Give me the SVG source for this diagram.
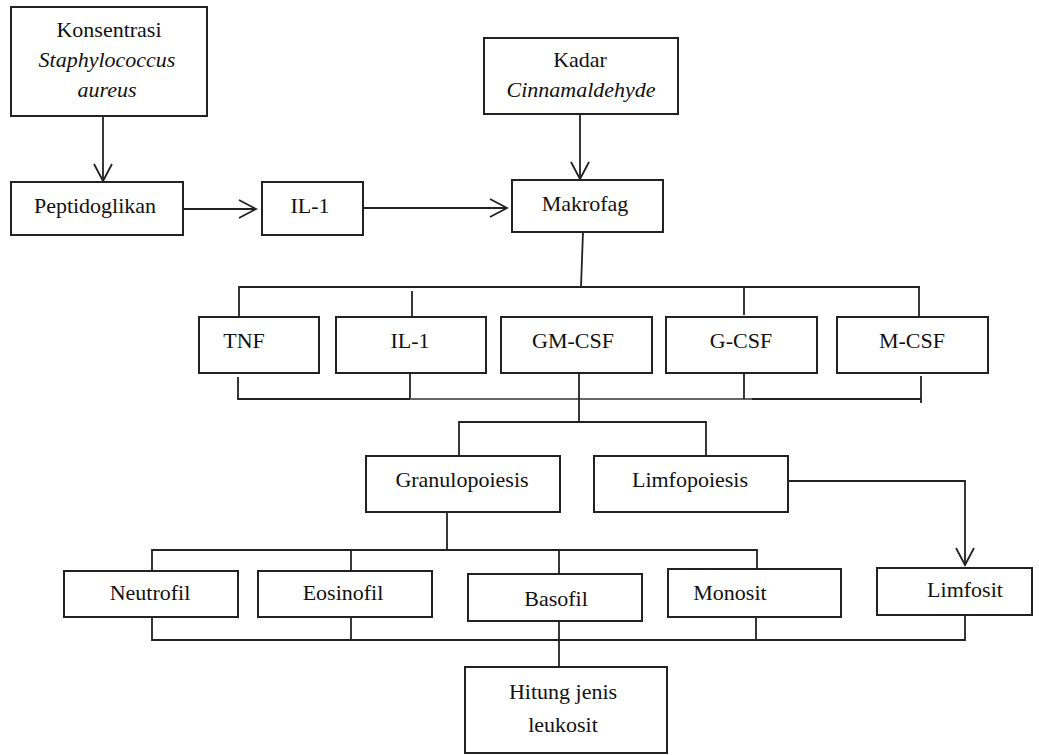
<svg xmlns="http://www.w3.org/2000/svg" width="1039" height="755" viewBox="0 0 1039 755">
<style>
.box{fill:#fff;stroke:#222;stroke-width:2}
.t{font-family:"Liberation Serif","Times New Roman",serif;font-size:22px;fill:#111;text-anchor:middle}
.i{font-style:italic}
.c{fill:none;stroke:#222;stroke-width:1.8}
.g{fill:none;stroke:#666;stroke-width:1.8}
</style>
<defs>
<marker id="arr" markerUnits="userSpaceOnUse" markerWidth="24" markerHeight="24" viewBox="-20 -12 24 24" refX="0" refY="0" orient="auto" overflow="visible">
<path d="M-17,-9 L0,0 L-17,9" fill="none" stroke="#222" stroke-width="1.8"/>
</marker>
</defs>
<rect width="1039" height="755" fill="#fff"/>
<g id="connectors">
<line class="c" x1="103" y1="116" x2="103" y2="181" marker-end="url(#arr)"/>
<line class="c" x1="183" y1="209" x2="256" y2="209" marker-end="url(#arr)"/>
<line class="c" x1="363" y1="208" x2="507" y2="208" marker-end="url(#arr)"/>
<line class="c" x1="580" y1="114" x2="580" y2="179" marker-end="url(#arr)"/>
<polyline class="c" points="583,232 581,287"/>
<polyline class="c" points="239,316 239,287 920,287"/>
<line class="c" x1="412" y1="291" x2="412" y2="317"/>
<line class="c" x1="744" y1="287" x2="744" y2="315"/>
<line class="c" x1="919" y1="287" x2="919" y2="317"/>
<polyline class="c" points="238,377 238,399 410,399"/>
<line class="c" x1="410" y1="373" x2="410" y2="399"/>
<line class="g" x1="410" y1="399" x2="752" y2="399"/>
<polyline class="c" points="752,399 921,399"/>
<line class="c" x1="921" y1="376" x2="921" y2="403"/>
<line class="c" x1="744" y1="373" x2="744" y2="399"/>
<line class="c" x1="579" y1="371" x2="579" y2="422"/>
<polyline class="c" points="459,456 459,422 706,422 706,456"/>
<line class="c" x1="447" y1="512" x2="447" y2="550"/>
<polyline class="c" points="152,571 152,550 757,550 757,569"/>
<line class="c" x1="351" y1="550" x2="351" y2="571"/>
<line class="c" x1="559" y1="550" x2="559" y2="574"/>
<polyline class="c" points="788,481 965,481 965,565" marker-end="url(#arr)"/>
<polyline class="c" points="152,617 152,640 965,640 965,615"/>
<line class="c" x1="351" y1="617" x2="351" y2="640"/>
<line class="c" x1="756" y1="617" x2="756" y2="640"/>
<line class="c" x1="559" y1="621" x2="559" y2="667"/>
</g>
<g id="konsentrasi">
<rect class="box" x="11" y="7" width="196" height="109"/>
<text class="t" x="109" y="37">Konsentrasi</text>
<text class="t i" x="107" y="67">Staphylococcus</text>
<text class="t i" x="107" y="97">aureus</text>
</g>
<g id="peptidoglikan">
<rect class="box" x="11" y="182" width="172" height="53"/>
<text class="t" x="95" y="213">Peptidoglikan</text>
</g>
<g id="il1-top">
<rect class="box" x="262" y="182" width="101" height="53"/>
<text class="t" x="310" y="213">IL-1</text>
</g>
<g id="kadar">
<rect class="box" x="484" y="38" width="194" height="76"/>
<text class="t" x="580" y="67">Kadar</text>
<text class="t i" x="581" y="97">Cinnamaldehyde</text>
</g>
<g id="makrofag">
<rect class="box" x="512" y="180" width="151" height="52"/>
<text class="t" x="585" y="211">Makrofag</text>
</g>
<g id="tnf">
<rect class="box" x="199" y="317" width="120" height="56"/>
<text class="t" x="244" y="348">TNF</text>
</g>
<g id="il1">
<rect class="box" x="336" y="317" width="150" height="56"/>
<text class="t" x="410" y="348">IL-1</text>
</g>
<g id="gmcsf">
<rect class="box" x="501" y="317" width="151" height="56"/>
<text class="t" x="573" y="348">GM-CSF</text>
</g>
<g id="gcsf">
<rect class="box" x="666" y="317" width="151" height="56"/>
<text class="t" x="741" y="348">G-CSF</text>
</g>
<g id="mcsf">
<rect class="box" x="837" y="317" width="151" height="56"/>
<text class="t" x="912" y="348">M-CSF</text>
</g>
<g id="granulopoiesis">
<rect class="box" x="366" y="456" width="194" height="56"/>
<text class="t" x="462" y="487">Granulopoiesis</text>
</g>
<g id="limfopoiesis">
<rect class="box" x="594" y="456" width="194" height="56"/>
<text class="t" x="690" y="487">Limfopoiesis</text>
</g>
<g id="neutrofil">
<rect class="box" x="64" y="571" width="174" height="46"/>
<text class="t" x="150" y="600">Neutrofil</text>
</g>
<g id="eosinofil">
<rect class="box" x="258" y="571" width="174" height="46"/>
<text class="t" x="343" y="600">Eosinofil</text>
</g>
<g id="basofil">
<rect class="box" x="468" y="574" width="174" height="47"/>
<text class="t" x="556" y="606">Basofil</text>
</g>
<g id="monosit">
<rect class="box" x="668" y="569" width="173" height="48"/>
<text class="t" x="730" y="600">Monosit</text>
</g>
<g id="limfosit">
<rect class="box" x="877" y="568" width="155" height="47"/>
<text class="t" x="965" y="597">Limfosit</text>
</g>
<g id="hitung">
<rect class="box" x="465" y="667" width="202" height="86"/>
<text class="t" x="563" y="699">Hitung jenis</text>
<text class="t" x="563" y="732">leukosit</text>
</g>
</svg>
